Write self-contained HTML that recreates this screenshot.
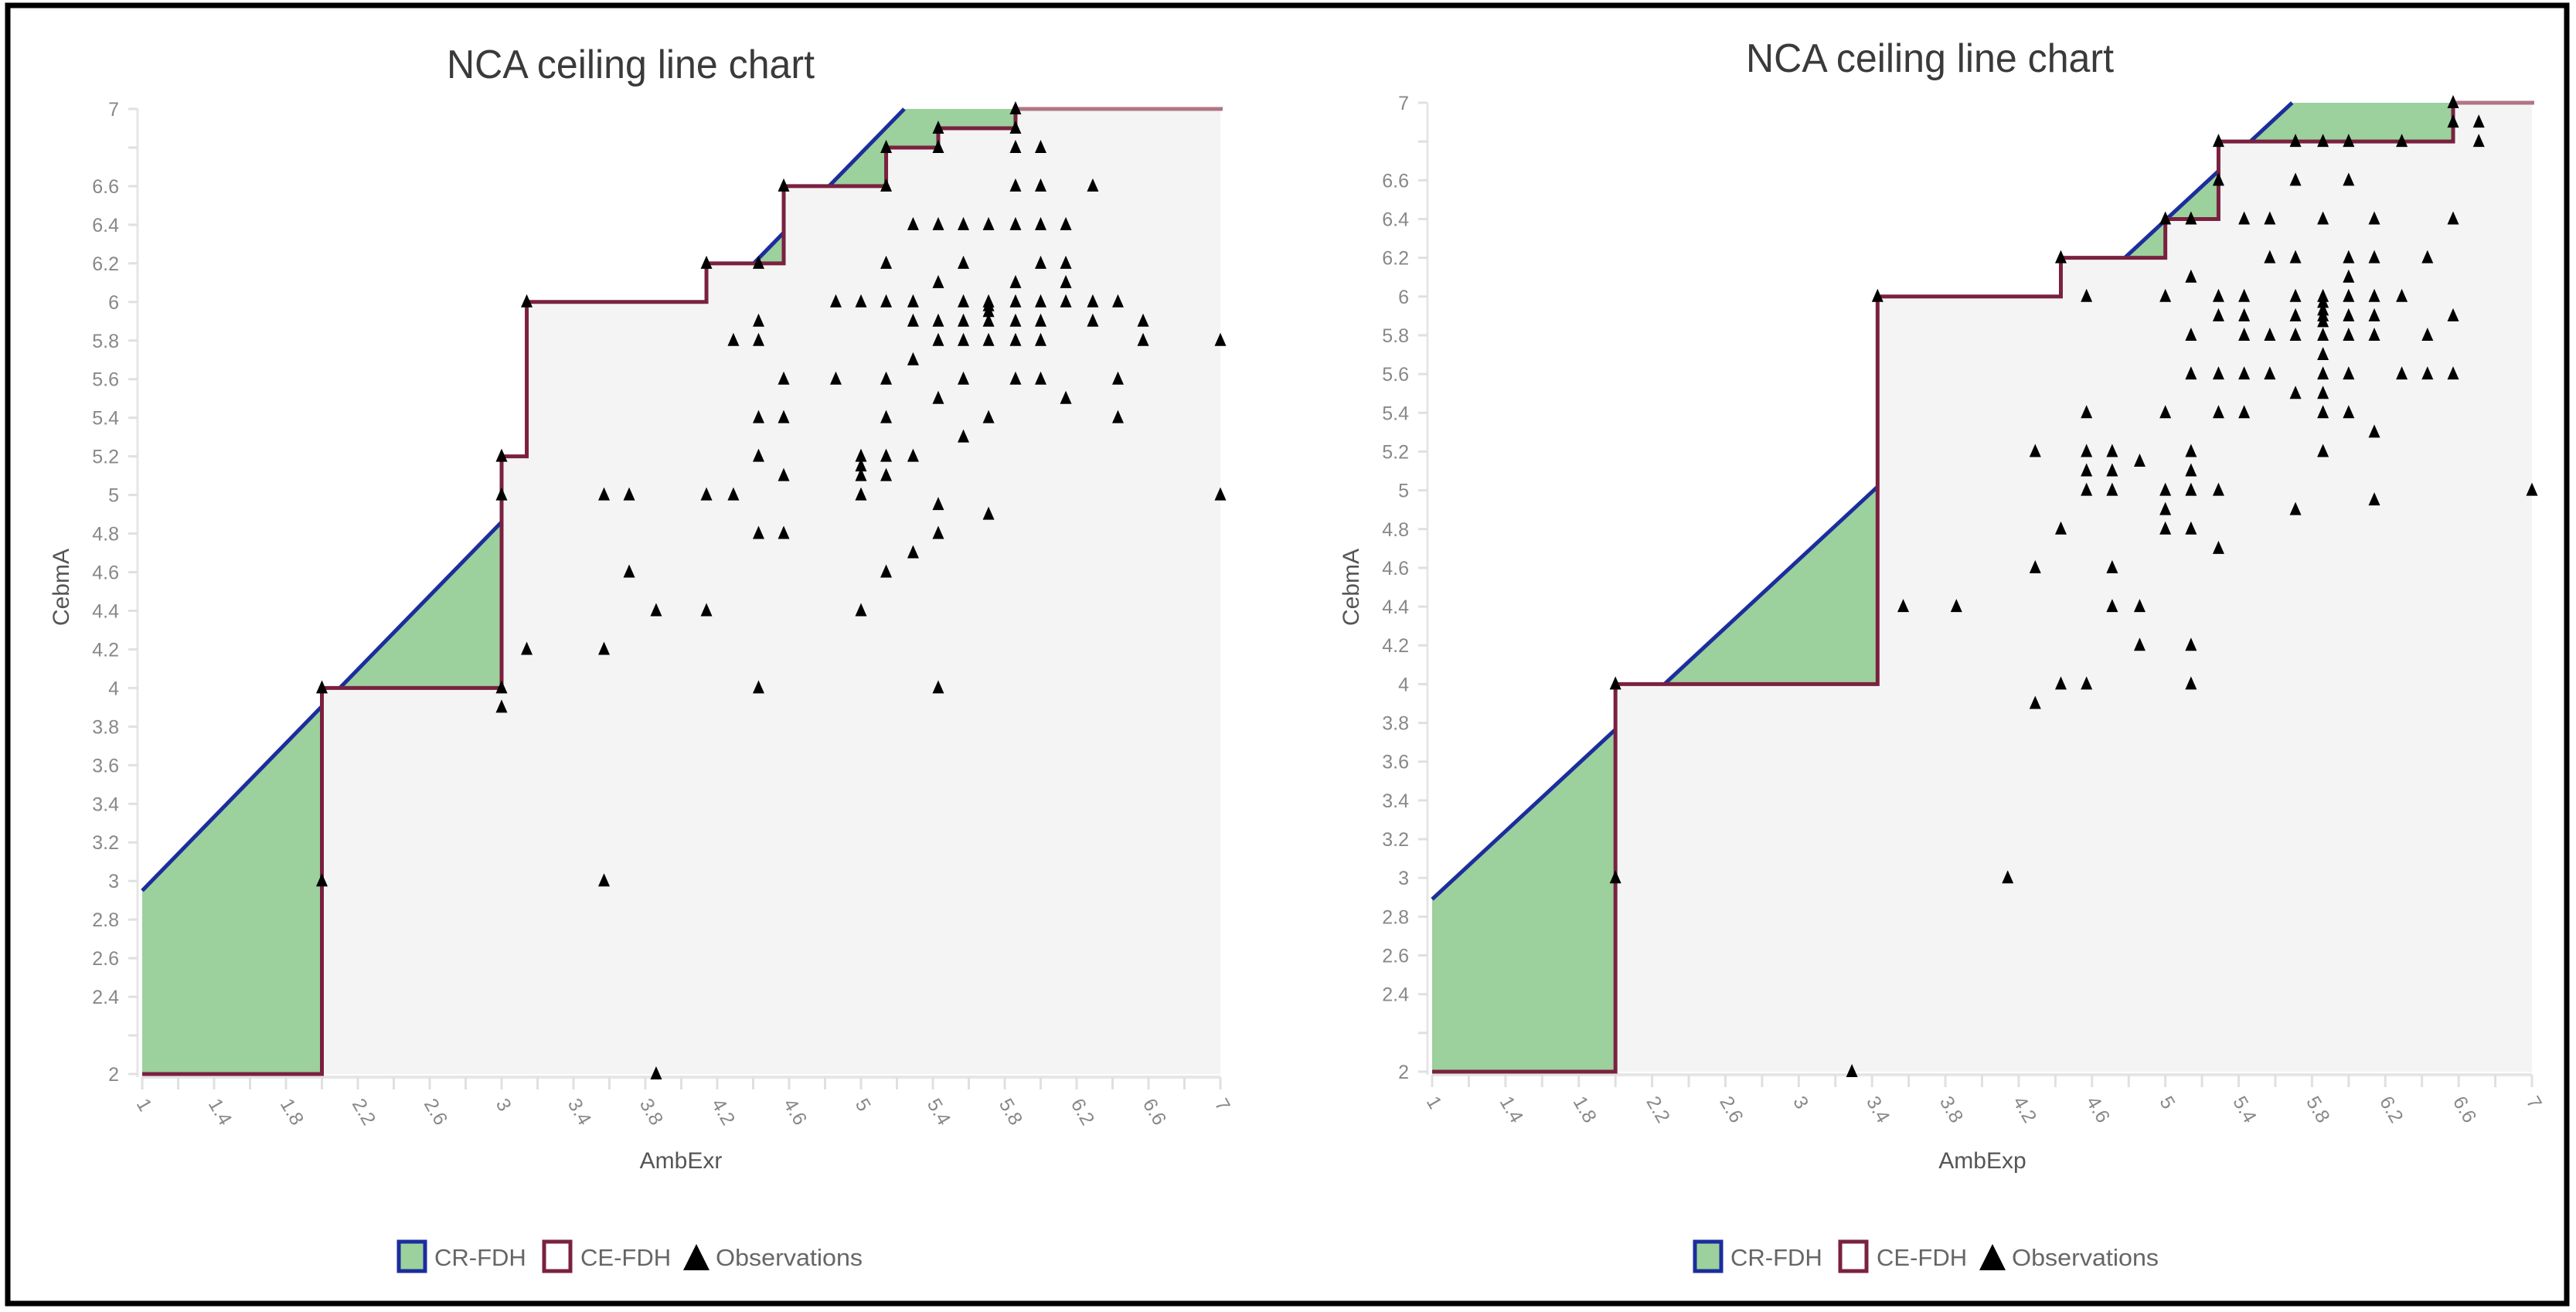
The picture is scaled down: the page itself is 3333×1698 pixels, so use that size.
<!DOCTYPE html>
<html><head><meta charset="utf-8"><style>
html,body{margin:0;padding:0;background:#fff;}
svg{display:block;font-family:"Liberation Sans",sans-serif;}
</style></head><body>
<svg id="root" width="3333" height="1698" viewBox="0 0 3333 1698" xmlns="http://www.w3.org/2000/svg">
<rect x="0" y="0" width="3333" height="1698" fill="#fff"/>
<rect x="10" y="7" width="3311" height="1680" fill="none" stroke="#000" stroke-width="7"/>
<g id="left"></g>
<g id="right"></g>
</svg>
<script>
// ---- data ----
const xTicks = [1,1.2,1.4,1.6,1.8,2,2.2,2.4,2.6,2.8,3,3.2,3.4,3.6,3.8,4,4.2,4.4,4.6,4.8,5,5.2,5.4,5.6,5.8,6,6.2,6.4,6.6,6.8,7];
const xTickLabels = ["1","","1.4","","1.8","","2.2","","2.6","","3","","3.4","","3.8","","4.2","","4.6","","5","","5.4","","5.8","","6.2","","6.6","","7"];
const yTicks = [2,2.2,2.4,2.6,2.8,3,3.2,3.4,3.6,3.8,4,4.2,4.4,4.6,4.8,5,5.2,5.4,5.6,5.8,6,6.2,6.4,6.6,6.8,7];
const yTickLabels = ["2","","2.4","2.6","2.8","3","3.2","3.4","3.6","3.8","4","4.2","4.4","4.6","4.8","5","5.2","5.4","5.6","5.8","6","6.2","6.4","6.6","","7"];

// Left chart (AmbExr)
const leftCeX = [1,2,2,3,3,3.14,3.14,4.14,4.14,4.57,4.57,5.14,5.14,5.43,5.43,5.86,5.86,7];
const leftCeY = [2,2,4,4,5.2,5.2,6,6,6.2,6.2,6.6,6.6,6.8,6.8,6.9,6.9,7,7];
const leftCrStart = 2.95;
const leftCrSlope = 0.955;
const leftObsX = [2,2, 3,3,3,3, 3.14,3.14, 3.57,3.57,3.57, 3.71,3.71, 3.86,3.86, 4.14,4.14,4.14, 4.29,4.29,
 4.43,4.43,4.43,4.43,4.43,4.43,4.43, 4.57,4.57,4.57,4.57,4.57, 4.86,4.86, 5,5,5,5,5,5,
 5.14,5.14,5.14,5.14,5.14,5.14,5.14,5.14,5.14, 5.29,5.29,5.29,5.29,5.29,5.29,
 5.43,5.43,5.43,5.43,5.43,5.43,5.43,5.43,5.43,5.43, 5.57,5.57,5.57,5.57,5.57,5.57,5.57,
 5.71,5.71,5.71,5.71,5.71,5.71,5.71,5.71, 5.86,5.86,5.86,5.86,5.86,5.86,5.86,5.86,5.86,5.86,
 6,6,6,6,6,6,6,6, 6.14,6.14,6.14,6.14,6.14, 6.29,6.29,6.29, 6.43,6.43,6.43, 6.57,6.57, 7,7];
const leftObsY = [4,3, 5.2,5,4,3.9, 6,4.2, 5,4.2,3, 5,4.6, 4.4,2, 6.2,5,4.4, 5.8,5,
 6.2,5.9,5.8,5.4,5.2,4.8,4, 6.6,5.6,5.4,5.1,4.8, 6,5.6, 6,5.2,5.15,5.1,5,4.4,
 6.8,6.6,6.2,6,5.6,5.4,5.2,5.1,4.6, 6.4,6,5.9,5.7,5.2,4.7,
 6.9,6.8,6.4,6.1,5.9,5.8,5.5,4.95,4.8,4, 6.4,6.2,6,5.9,5.8,5.6,5.3,
 6.4,6,5.98,5.95,5.9,5.8,5.4,4.9, 7,6.9,6.8,6.6,6.4,6.1,6,5.9,5.8,5.6,
 6.8,6.6,6.4,6.2,6,5.9,5.8,5.6, 6.4,6.2,6.1,6,5.5, 6.6,6,5.9, 6,5.6,5.4, 5.9,5.8, 5.8,5];

// Right chart (AmbExp)
const rightCeX = [1,2,2,3.43,3.43,4.43,4.43,5,5,5.29,5.29,6.57,6.57,7];
const rightCeY = [2,2,4,4,6,6,6.2,6.2,6.4,6.4,6.8,6.8,7,7];
const rightCrStart = 2.89;
const rightCrSlope = 0.876;
const rightObsX = [2,2, 3.43, 3.57, 3.86, 4.14, 3.29, 4.29,4.29,4.29, 4.43,4.43,4.43,
 4.57,4.57,4.57,4.57,4.57,4.57, 4.71,4.71,4.71,4.71,4.71, 4.86,4.86,4.86, 5,5,5,5,5,5,
 5.14,5.14,5.14,5.14,5.14,5.14,5.14,5.14,5.14,5.14, 5.29,5.29,5.29,5.29,5.29,5.29,5.29,5.29,
 5.43,5.43,5.43,5.43,5.43,5.43, 5.57,5.57,5.57,5.57, 5.71,5.71,5.71,5.71,5.71,5.71,5.71,5.71,
 5.86,5.86,5.86,5.86,5.86,5.86,5.86,5.86,5.86,5.86,5.86,5.86,5.86,
 6,6,6,6,6,6,6,6,6, 6.14,6.14,6.14,6.14,6.14,6.14,6.14, 6.29,6.29,6.29, 6.43,6.43,6.43,
 6.57,6.57,6.57,6.57,6.57, 6.71,6.71, 7];
const rightObsY = [4,3, 6, 4.4, 4.4, 3, 2, 5.2,4.6,3.9, 6.2,4.8,4,
 6,5.4,5.2,5.1,5,4, 5.2,5.1,5,4.6,4.4, 5.15,4.4,4.2, 6.4,6,5.4,5,4.9,4.8,
 6.4,6.1,5.8,5.6,5.2,5.1,5,4.8,4.2,4, 6.8,6.6,6,5.9,5.6,5.4,5,4.7,
 6.4,6,5.9,5.8,5.6,5.4, 6.4,6.2,5.8,5.6, 6.8,6.6,6.2,6,5.9,5.8,5.5,4.9,
 6.8,6.4,6,5.97,5.93,5.9,5.87,5.8,5.7,5.6,5.5,5.4,5.2,
 6.8,6.6,6.2,6.1,6,5.9,5.8,5.6,5.4, 6.4,6.2,6,5.9,5.8,5.3,4.95, 6.8,6,5.6, 6.2,5.8,5.6,
 7,6.9,6.4,5.9,5.6, 6.9,6.8, 5];

const NS = "http://www.w3.org/2000/svg";
function mk(tag, attrs, parent){
  const e = document.createElementNS(NS, tag);
  for (const k in attrs) e.setAttribute(k, attrs[k]);
  parent.appendChild(e);
  return e;
}

function drawChart(g, P, ceX, ceY, crStart, crSlope, obsX, obsY, xTitle){
  const sx = v => P.x0 + (v - 1) / 6 * (P.x1 - P.x0);
  const sy = v => P.yb - (v - 2) / 5 * (P.yb - P.yt);

  const title = mk('text', {x: P.tx, y: P.yt - 40, 'font-size': 52, fill: '#3a3a3a', 'text-anchor': 'middle', textLength: 476, lengthAdjust: 'spacingAndGlyphs'}, g);
  title.textContent = 'NCA ceiling line chart';
  
  

  // axes
  const yaxis = mk('line', {x1: P.x0 - 6, y1: P.yt, x2: P.x0 - 6, y2: P.yb + 4, stroke: '#e6e6e6', 'stroke-width': 3}, g);
  
  
  const xaxis = mk('line', {x1: P.x0, y1: P.yb + 4, x2: P.x1, y2: P.yb + 4, stroke: '#e6e6e6', 'stroke-width': 4}, g);
  
  

  yTicks.forEach((v, i) => {
    const y = sy(v);
    mk('line', {x1: P.x0 - 18, y1: y, x2: P.x0 - 6, y2: y, stroke: '#e0e0e0', 'stroke-width': 3}, g);
    if (yTickLabels[i]) {
      const t = mk('text', {x: P.x0 - 30, y: y + 9, 'font-size': 25, fill: '#888', 'text-anchor': 'end'}, g);
      t.textContent = yTickLabels[i];
      
      
    }
  });
  xTicks.forEach((v, i) => {
    const x = sx(v);
    mk('line', {x1: x, y1: P.yb + 4, x2: x, y2: P.yb + 20, stroke: '#e0e0e0', 'stroke-width': 3}, g);
    if (xTickLabels[i]) {
      const t = mk('text', {x: 0, y: 0, 'font-size': 25, fill: '#888', transform: `translate(${x - 8},${P.yb + 38}) rotate(60)`}, g);
      t.textContent = xTickLabels[i];
      
      
    }
  });

  // CR-FDH area (clipped at 7)
  const xHit = Math.min(7, 1 + (7 - crStart) / crSlope);
  const crPts = [[1,2],[1,crStart],[xHit,7],[7,7],[7,2]];
  const crArea = mk('polygon', {points: crPts.map(p => sx(p[0]) + ',' + sy(p[1])).join(' '), fill: '#9cd09c'}, g);
  
  
  const crLine = mk('line', {x1: sx(1), y1: sy(crStart), x2: sx(xHit), y2: sy(7), stroke: '#1c2d9c', 'stroke-width': 5}, g);
  
  

  // CE-FDH area
  const cePts = ceX.map((v, i) => sx(v) + ',' + sy(ceY[i]));
  cePts.push(sx(7) + ',' + sy(2));
  const ceArea = mk('polygon', {points: cePts.join(' '), fill: '#f4f4f4'}, g);
  
  
  const n = ceX.length;
  const ceLine = mk('polyline', {points: ceX.slice(0, n - 1).map((v, i) => sx(v) + ',' + sy(ceY[i])).join(' '), fill: 'none', stroke: '#7a2140', 'stroke-width': 5}, g);
  
  
  const ceTop = mk('line', {x1: sx(ceX[n - 2]), y1: sy(ceY[n - 2]), x2: sx(ceX[n - 1]) + 3, y2: sy(ceY[n - 1]), stroke: '#b07585', 'stroke-width': 5}, g);
  
  

  // observations
  obsX.forEach((v, i) => {
    const x = sx(v), y = sy(obsY[i]);
    const tri = mk('polygon', {points: `${x},${y - 10} ${x - 7.5},${y + 7} ${x + 7.5},${y + 7}`, fill: '#000'}, g);
    
    
  });

  // axis titles
  const xt = mk('text', {x: P.xtx, y: 1512, 'font-size': 30, fill: '#555', 'text-anchor': 'middle'}, g);
  xt.textContent = xTitle;
  
  
  const yt = mk('text', {x: 0, y: 0, 'font-size': 30, fill: '#555', 'text-anchor': 'middle', transform: `translate(${P.x0 - 95},760) rotate(-90)`}, g);
  yt.textContent = 'CebmA';
  
  

  // legend
  const lx = P.lx;
  const lg = mk('g', {}, g);
  
  
  const b1 = mk('rect', {x: lx, y: 1607, width: 34, height: 38, fill: '#9cd09c', stroke: '#1c2d9c', 'stroke-width': 5}, lg);
  
  
  const t1 = mk('text', {x: lx + 46, y: 1638, 'font-size': 31, fill: '#666'}, lg);
  t1.textContent = 'CR-FDH';
  
  
  const b2 = mk('rect', {x: lx + 188, y: 1607, width: 34, height: 38, fill: '#fff', stroke: '#7a2140', 'stroke-width': 5}, lg);
  
  
  const t2 = mk('text', {x: lx + 235, y: 1638, 'font-size': 31, fill: '#666'}, lg);
  t2.textContent = 'CE-FDH';
  
  
  const tr = mk('polygon', {points: `${lx + 385},${1610} ${lx + 368},${1644} ${lx + 402},${1644}`, fill: '#000'}, lg);
  
  
  const t3 = mk('text', {x: lx + 410, y: 1638, 'font-size': 31, fill: '#666', textLength: 190, lengthAdjust: 'spacingAndGlyphs'}, lg);
  t3.textContent = 'Observations';
  
  
}

drawChart(document.getElementById('left'),
  {x0: 184, x1: 1579, yt: 141, yb: 1390, tx: 816, xtx: 881, lx: 516},
  leftCeX, leftCeY, leftCrStart, leftCrSlope, leftObsX, leftObsY, 'AmbExr');
drawChart(document.getElementById('right'),
  {x0: 1853, x1: 3276, yt: 133, yb: 1387, tx: 2497, xtx: 2565, lx: 2193},
  rightCeX, rightCeY, rightCrStart, rightCrSlope, rightObsX, rightObsY, 'AmbExp');
</script>
</body></html>
